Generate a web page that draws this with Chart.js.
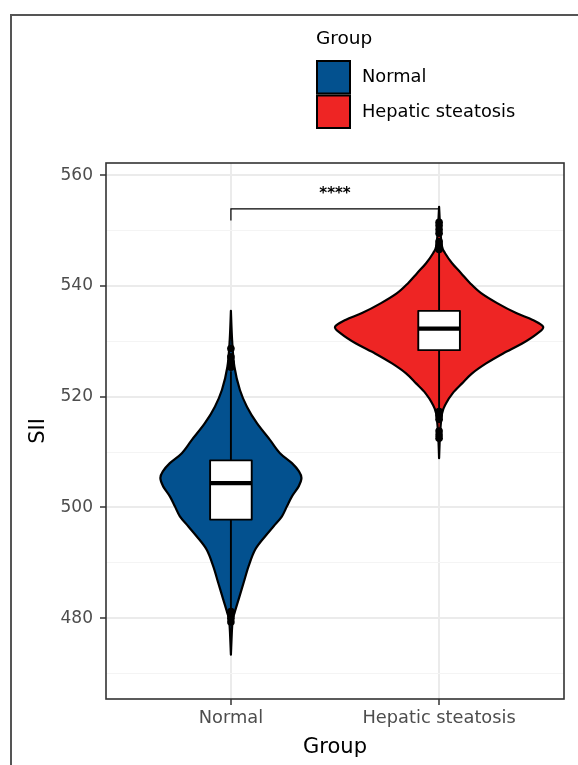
<!DOCTYPE html>
<html><head><meta charset="utf-8">
<script src="https://cdn.jsdelivr.net/npm/chart.js@4/dist/chart.umd.min.js"></script>
<style>html,body{margin:0;padding:0;background:#fff;overflow:hidden}#wrap{width:578px;height:765px;position:relative}</style>
</head><body><div id="wrap"><canvas id="c" width="578" height="765"></canvas></div>
<script>
// ---------- data ----------
const categories = ['Normal', 'Hepatic steatosis'];
const groupColors = ['#03518f', '#ee2524'];
const legendTitle = 'Group';
const xTitle = 'Group';
const yTitle = 'SII';
const yTickValues = [470, 480, 490, 500, 510, 520, 530, 540, 550, 560];
const yTickLabels = ['', '480', '', '500', '', '520', '', '540', '', '560'];

// violin outlines: SII value and relative half-width (density)
const normalViolinValues  = [535.5, 530.2, 525.4, 521.2, 518.2, 515.2, 512.2, 509.8, 508.0, 506.5, 505.3, 503.8, 502.0, 500.2, 498.4, 496.6, 494.8, 492.4, 489.4, 486.4, 483.4, 481.0, 479.2, 473.4];
const normalViolinDensity = [0, 1.2, 3.5, 9, 16, 26, 39, 49, 61, 68, 70.5, 67.7, 61, 56, 51, 42.7, 34.3, 24.3, 17.7, 12.7, 7.7, 3.7, 1.5, 0];
const hepaticViolinValues  = [554.3, 550.1, 547.1, 545.9, 544.1, 542.3, 540.5, 538.7, 536.9, 535.1, 533.9, 532.6, 531.4, 529.6, 527.8, 526.0, 524.2, 522.4, 520.6, 518.8, 517.0, 513.4, 508.9];
const hepaticViolinDensity = [0, 1.2, 3, 6, 13, 22, 31, 42, 58, 77, 93, 104, 98, 83, 64, 47, 33, 23, 13.5, 7, 3, 1, 0];

// boxplots: [lower whisker, Q1, median, Q3, upper whisker]
const normalBox  = [481.8, 497.8, 504.4, 508.5, 524.6];
const hepaticBox = [517.8, 528.4, 532.3, 535.5, 546.1];
const normalOutliers  = [525.3, 526.2, 527.2, 528.7, 481.2, 480.6, 480.0, 479.3];
const hepaticOutliers = [546.6, 547.3, 548.0, 549.5, 550.2, 550.9, 551.5, 517.3, 516.6, 515.9, 513.8, 513.1, 512.5];

const significanceLabel = '****';
const bracketBarValue = 553.9;
const bracketTickEnd = 551.8;
const significanceTextValue = 556.6;

// ---------- chart ----------
const FONT = '"DejaVu Sans", "Liberation Sans", Arial, sans-serif';
Chart.defaults.font.family = FONT;
const MAX_DENSITY = Math.max(...normalViolinDensity, ...hepaticViolinDensity);
const VIOLIN_HALF = 0.5;   // category units at max density
const BOX_HALF = 0.1;

function smoothOpen(ctx, pts, first) {
  if (first) ctx.moveTo(pts[0][0], pts[0][1]); else ctx.lineTo(pts[0][0], pts[0][1]);
  const n = pts.length;
  for (let i = 0; i < n - 1; i++) {
    const p0 = pts[Math.max(i - 1, 0)], p1 = pts[i], p2 = pts[i + 1], p3 = pts[Math.min(i + 2, n - 1)];
    ctx.bezierCurveTo(p1[0] + (p2[0] - p0[0]) / 6, p1[1] + (p2[1] - p0[1]) / 6,
                      p2[0] - (p3[0] - p1[0]) / 6, p2[1] - (p3[1] - p1[1]) / 6, p2[0], p2[1]);
  }
}

const violinPlugin = {
  id: 'violins',
  beforeDatasetsDraw(chart) {
    const {ctx, scales: {x, y}} = chart;
    const groups = [
      {pos: 1, vals: normalViolinValues, dens: normalViolinDensity, box: normalBox, color: groupColors[0]},
      {pos: 2, vals: hepaticViolinValues, dens: hepaticViolinDensity, box: hepaticBox, color: groupColors[1]}
    ];
    ctx.save();
    groups.forEach(g => {
      const right = g.vals.map((v, i) => [x.getPixelForValue(g.pos + g.dens[i] / MAX_DENSITY * VIOLIN_HALF), y.getPixelForValue(v)]);
      const left = g.vals.map((v, i) => [x.getPixelForValue(g.pos - g.dens[i] / MAX_DENSITY * VIOLIN_HALF), y.getPixelForValue(v)]).reverse();
      ctx.beginPath();
      smoothOpen(ctx, right, true);
      smoothOpen(ctx, left, false);
      ctx.closePath();
      ctx.fillStyle = g.color;
      ctx.fill();
      ctx.lineWidth = 2.2;
      ctx.strokeStyle = '#000';
      ctx.lineJoin = 'round';
      ctx.stroke();
      // boxplot
      const cx = x.getPixelForValue(g.pos);
      const xl = x.getPixelForValue(g.pos - BOX_HALF), xr = x.getPixelForValue(g.pos + BOX_HALF);
      const [lo, q1, med, q3, hi] = g.box.map(v => y.getPixelForValue(v));
      ctx.lineWidth = 1.9;
      ctx.beginPath();
      ctx.moveTo(cx, q3); ctx.lineTo(cx, hi);
      ctx.moveTo(cx, q1); ctx.lineTo(cx, lo);
      ctx.stroke();
      ctx.fillStyle = '#fff';
      ctx.fillRect(xl, q3, xr - xl, q1 - q3);
      ctx.strokeRect(xl, q3, xr - xl, q1 - q3);
      ctx.lineWidth = 4.2;
      ctx.beginPath(); ctx.moveTo(xl, med); ctx.lineTo(xr, med); ctx.stroke();
    });
    ctx.restore();
  },
  afterDatasetsDraw(chart) {
    const {ctx, scales: {x, y}} = chart;
    ctx.save();
    const x1 = x.getPixelForValue(1), x2 = x.getPixelForValue(2);
    const yb = y.getPixelForValue(bracketBarValue), yt = y.getPixelForValue(bracketTickEnd);
    ctx.strokeStyle = '#000'; ctx.lineWidth = 1.2;
    ctx.beginPath();
    ctx.moveTo(x1, yt); ctx.lineTo(x1, yb); ctx.lineTo(x2, yb); ctx.lineTo(x2, yt);
    ctx.stroke();
    ctx.fillStyle = '#000';
    ctx.font = 'bold 15px ' + FONT;
    ctx.textAlign = 'center'; ctx.textBaseline = 'middle';
    ctx.fillText(significanceLabel, x.getPixelForValue(1.5), y.getPixelForValue(significanceTextValue));
    ctx.restore();
  },
  afterDraw(chart) {
    const {ctx, chartArea: a} = chart;
    ctx.save();
    // panel border
    ctx.strokeStyle = '#333'; ctx.lineWidth = 1.6;
    ctx.strokeRect(a.left, a.top, a.right - a.left, a.bottom - a.top);
    // outer frame
    ctx.strokeStyle = '#555'; ctx.lineWidth = 2;
    ctx.beginPath(); ctx.moveTo(11, 765); ctx.lineTo(11, 15); ctx.lineTo(578, 15); ctx.stroke();
    // legend
    ctx.fillStyle = '#000'; ctx.textAlign = 'left'; ctx.textBaseline = 'middle';
    ctx.font = '18.5px ' + FONT;
    ctx.fillText(legendTitle, 316, 39);
    ctx.font = '17.8px ' + FONT;
    categories.forEach((c, i) => {
      const top = 60 + i * 34.5;
      ctx.fillStyle = groupColors[i];
      ctx.fillRect(317, top + 1, 33, 32.5);
      ctx.strokeStyle = '#000'; ctx.lineWidth = 2;
      ctx.strokeRect(317, top + 1, 33, 32.5);
      ctx.fillStyle = '#000';
      ctx.fillText(c, 362, top + 17.5);
    });
    ctx.restore();
  }
};

const outlierData = (pos, arr) => arr.map(v => ({x: pos, y: v}));

new Chart(document.getElementById('c'), {
  type: 'scatter',
  data: {
    datasets: [
      {label: categories[0], data: outlierData(1, normalOutliers), pointRadius: 3.8, pointBackgroundColor: '#000', pointBorderWidth: 0},
      {label: categories[1], data: outlierData(2, hepaticOutliers), pointRadius: 3.8, pointBackgroundColor: '#000', pointBorderWidth: 0}
    ]
  },
  options: {
    responsive: false, animation: false, devicePixelRatio: 1,
    layout: {padding: {left: 14, right: 14, top: 163, bottom: 0}},
    plugins: {legend: {display: false}, tooltip: {enabled: false}},
    scales: {
      x: {
        type: 'linear', min: 0.4, max: 2.6,
        afterBuildTicks: s => { s.ticks = [{value: 1}, {value: 2}]; },
        afterFit: s => { s.height = 66; },
        ticks: {callback: v => categories[v - 1] || '', color: '#4d4d4d', font: {size: 17.8}, padding: 3, autoSkip: false, maxRotation: 0},
        grid: {color: '#ebebeb', lineWidth: 2, tickLength: 6, tickColor: '#333', tickWidth: 1.5},
        border: {display: false},
        title: {display: true, text: xTitle, color: '#000', font: {size: 21}, padding: {top: 0, bottom: 5}}
      },
      y: {
        type: 'linear', min: 465.4, max: 562.2,
        afterBuildTicks: s => { s.ticks = yTickValues.map(v => ({value: v})); },
        afterFit: s => { s.width = 92; },
        ticks: {callback: v => yTickLabels[yTickValues.indexOf(v)] ?? '', color: '#4d4d4d', font: {size: 17}, padding: 7, autoSkip: false},
        grid: {
          color: c => (c.tick && c.tick.value % 20 === 0) ? '#ebebeb' : '#f4f4f4',
          lineWidth: c => (c.tick && c.tick.value % 20 === 0) ? 2 : 1,
          tickColor: c => (c.tick && c.tick.value % 20 === 0) ? '#333' : 'rgba(0,0,0,0)',
          tickLength: 6, tickWidth: 1.5
        },
        border: {display: false},
        title: {display: true, text: yTitle, color: '#000', font: {size: 21}, padding: {top: 12, bottom: 0}}
      }
    }
  },
  plugins: [violinPlugin]
});
</script>
</body></html>
